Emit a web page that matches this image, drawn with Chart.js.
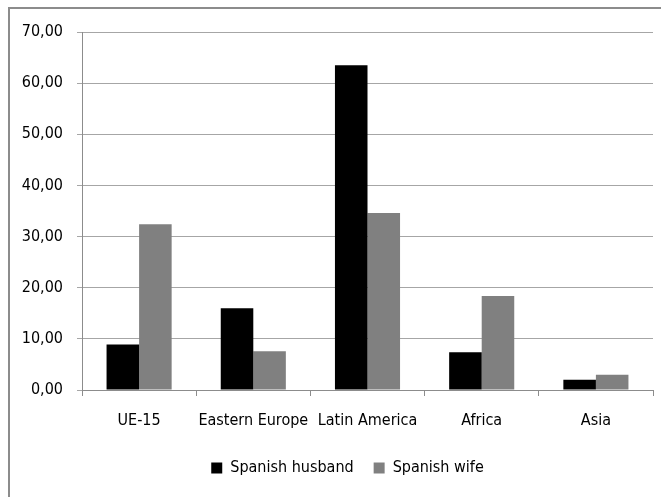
<!DOCTYPE html>
<html><head><meta charset="utf-8">
<script src="https://cdn.jsdelivr.net/npm/chart.js@4/dist/chart.umd.min.js"></script>
<style>
html,body{margin:0;padding:0;background:#fff;}
#wrap{position:absolute;left:0;top:0;width:661px;height:497px;}
#frame{position:absolute;left:8px;top:7px;width:680px;height:520px;border:2px solid #8c8c8c;box-sizing:border-box;}
canvas{position:absolute;left:0;top:0;}
</style></head>
<body>
<div id="wrap"><div id="frame"></div><canvas id="c" width="661" height="497"></canvas></div>
<script>
const categories = ["UE-15", "Eastern Europe", "Latin America", "Africa", "Asia"];
const husbandValues = [8.9, 16.0, 63.5, 7.4, 2.0];
const wifeValues = [32.4, 7.6, 34.6, 18.4, 3.0];
const seriesNames = ["Spanish husband", "Spanish wife"];
const FONT = "'Liberation Sans Narrow','DejaVu Sans Condensed','Open Sans',sans-serif";

const shiftLegend = {
  id: 'shiftLegend',
  afterLayout(chart) {
    if (chart.legend) { chart.legend.left += 21; chart.legend.right += 21; }
  }
};

new Chart(document.getElementById('c'), {
  type: 'bar',
  data: {
    labels: categories,
    datasets: [
      {label: seriesNames[0], data: husbandValues, backgroundColor: '#000000', borderWidth: 0},
      {label: seriesNames[1], data: wifeValues, backgroundColor: '#808080', borderWidth: 0}
    ]
  },
  plugins: [shiftLegend],
  options: {
    responsive: false,
    animation: false,
    devicePixelRatio: 1,
    categoryPercentage: 0.57,
    barPercentage: 1.0,
    layout: {padding: {top: 32, right: 8, left: 0, bottom: 11}},
    plugins: {
      tooltip: {enabled: false},
      legend: {
        position: 'bottom',
        labels: {
          boxWidth: 11, boxHeight: 11, padding: 20,
          color: '#000', font: {family: FONT, size: 16}
        }
      }
    },
    scales: {
      x: {
        afterFit: s => { s.height = 50; },
        grid: {offset: true, drawOnChartArea: false, tickLength: 6, color: '#8c8c8c'},
        border: {color: '#8c8c8c', width: 1},
        ticks: {color: '#000', font: {family: FONT, size: 16}, padding: 15, maxRotation: 0}
      },
      y: {
        min: 0, max: 70,
        afterFit: s => { s.width = 82; },
        grid: {color: '#a6a6a6', tickLength: 5, lineWidth: 1},
        border: {color: '#8c8c8c', width: 1},
        ticks: {
          stepSize: 10, color: '#000', padding: 14,
          font: {family: FONT, size: 16},
          callback: v => v.toFixed(2).replace('.', ',')
        }
      }
    }
  }
});
</script>
</body></html>
